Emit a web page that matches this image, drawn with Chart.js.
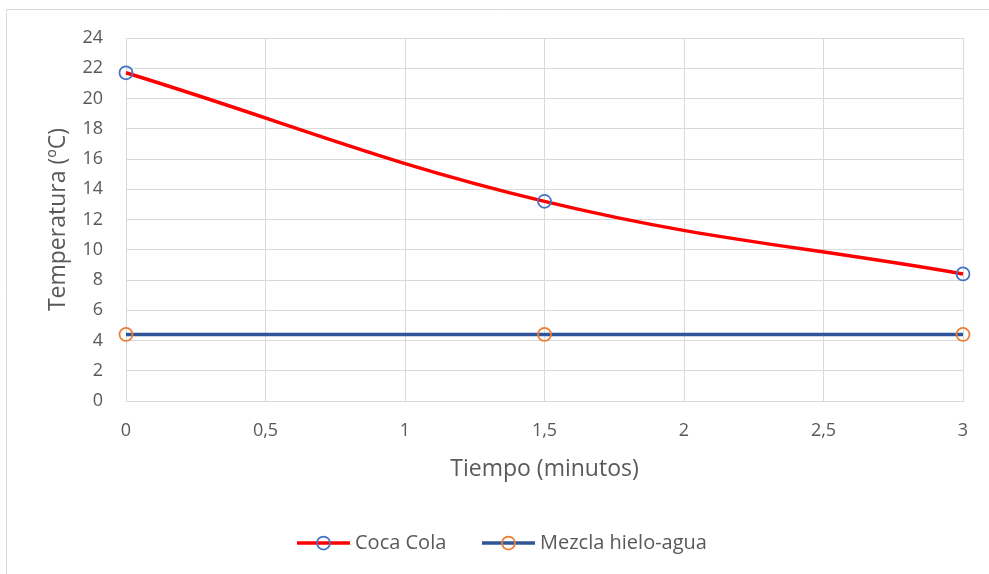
<!DOCTYPE html>
<html>
<head>
<meta charset="utf-8">
<script src="https://cdn.jsdelivr.net/npm/chart.js@4"></script>
<style>
  body { margin: 0; background: #fff; }
  #myChart { display: block; }
</style>
</head>
<body>
<canvas id="myChart" width="989" height="574"></canvas>
<script>
// eje X (minutos)
var tiempos = [0, 1.5, 3];
// eje Y (ºC)
var cocaCola = [21.7, 13.2, 8.4];
var mezcla = [4.4, 4.4, 4.4];
var nombres = ['Coca Cola', 'Mezcla hielo-agua'];

var ctx = document.getElementById('myChart').getContext('2d');
var fuente = "'Open Sans', sans-serif";
var gris = '#595959';

function puntos(xs, ys) {
    var out = [];
    for (var i = 0; i < xs.length; i++) {
        out.push({ x: xs[i], y: ys[i] });
    }
    return out;
}

// marco + leyenda dibujados a mano
var extras = {
    id: 'extras',
    beforeDraw: function (chart) {
        var c = chart.ctx;
        c.save();
        c.fillStyle = '#fff';
        c.fillRect(0, 0, chart.width, chart.height);
        c.strokeStyle = '#D9D9D9';
        c.lineWidth = 1;
        c.beginPath();
        c.moveTo(6.5, chart.height);
        c.lineTo(6.5, 9.5);
        c.lineTo(chart.width, 9.5);
        c.stroke();
        c.restore();
    },
    afterDraw: function (chart) {
        var c = chart.ctx;
        var y = 543;
        var items = [
            { x: 297, line: '#FF0000', mark: '#4472C4', text: nombres[0] },
            { x: 482, line: '#2F5597', mark: '#ED7D31', text: nombres[1] }
        ];
        c.save();
        items.forEach(function (it) {
            c.strokeStyle = it.line;
            c.lineWidth = 3.5;
            c.beginPath();
            c.moveTo(it.x, y);
            c.lineTo(it.x + 53, y);
            c.stroke();
            c.strokeStyle = it.mark;
            c.lineWidth = 1.75;
            c.beginPath();
            c.arc(it.x + 26.5, y, 6.5, 0, Math.PI * 2);
            c.stroke();
            c.fillStyle = gris;
            c.font = '20px ' + fuente;
            c.textBaseline = 'middle';
            c.textAlign = 'left';
            c.fillText(it.text, it.x + 58, y);
        });
        c.restore();
    }
};

var myChart = new Chart(ctx, {
    type: 'line',
    data: {
        datasets: [{
            label: nombres[0],
            data: puntos(tiempos, cocaCola),
            borderColor: '#FF0000',
            borderWidth: 3.5,
            tension: 0.4,
            pointRadius: 6.5,
            pointBorderWidth: 1.75,
            pointBorderColor: '#4472C4',
            pointBackgroundColor: 'rgba(0,0,0,0)',
            clip: false
        }, {
            label: nombres[1],
            data: puntos(tiempos, mezcla),
            borderColor: '#2F5597',
            borderWidth: 3.5,
            tension: 0,
            pointRadius: 6.5,
            pointBorderWidth: 1.75,
            pointBorderColor: '#ED7D31',
            pointBackgroundColor: 'rgba(0,0,0,0)',
            clip: false
        }]
    },
    options: {
        responsive: false,
        animation: false,
        layout: { padding: { left: 40, right: 26, top: 38, bottom: 83 } },
        plugins: {
            legend: { display: false },
            tooltip: { enabled: false }
        },
        scales: {
            x: {
                type: 'linear',
                min: 0,
                max: 3,
                afterFit: function (s) { s.height = 90; },
                ticks: {
                    stepSize: 0.5,
                    padding: 19,
                    color: gris,
                    font: { family: fuente, size: 18 },
                    callback: function (v) { return v.toString().replace('.', ','); }
                },
                grid: { color: '#D9D9D9', drawTicks: false },
                border: { color: '#D9D9D9' },
                title: {
                    display: true,
                    text: 'Tiempo (minutos)',
                    color: gris,
                    font: { family: fuente, size: 23 },
                    padding: { top: 0, bottom: 8 }
                }
            },
            y: {
                min: 0,
                max: 24,
                afterFit: function (s) { s.width = 86; },
                ticks: {
                    stepSize: 2,
                    padding: 23,
                    color: gris,
                    font: { family: fuente, size: 18 }
                },
                grid: { color: '#D9D9D9', drawTicks: false },
                border: { color: '#D9D9D9' },
                title: {
                    display: true,
                    text: 'Temperatura (ºC)',
                    color: gris,
                    font: { family: fuente, size: 23 },
                    padding: { top: 5, bottom: 0 }
                }
            }
        }
    },
    plugins: [extras]
});
</script>
</body>
</html>
